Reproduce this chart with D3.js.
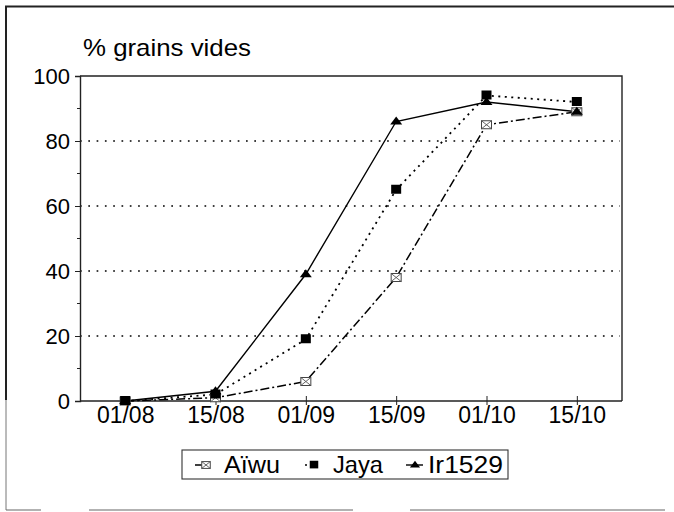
<!DOCTYPE html>
<html>
<head>
<meta charset="utf-8">
<script src="https://cdn.jsdelivr.net/npm/d3@7/dist/d3.min.js"></script>
<style>
  html, body { margin: 0; padding: 0; background: #fff; }
  svg { display: block; font-family: "Liberation Sans", Arial, sans-serif; }
</style>
</head>
<body>
<svg id="chart" width="674" height="512"></svg>
<script>
// Sampling dates (day/month)
const dates = ["01/08", "15/08", "01/09", "15/09", "01/10", "15/10"];
// Percentage of empty grains per variety
const aiwu   = [0, 1, 6, 38, 85, 89];
const jaya   = [0, 2, 19, 65, 94, 92];
const ir1529 = [0, 3, 39, 86, 92, 89];
const yTicks = [0, 20, 40, 60, 80, 100];
const seriesNames = ["Aïwu", "Jaya", "Ir1529"];

const svg = d3.select("#chart");

// Outer frame
const frame = svg.append("g").attr("fill", "none");
frame.append("line").attr("x1", 5).attr("x2", 674).attr("y1", 6.5).attr("y2", 6.5)
  .attr("stroke", "#222").attr("stroke-width", 2);
frame.append("line").attr("x1", 6).attr("x2", 6).attr("y1", 6).attr("y2", 400)
  .attr("stroke", "#222").attr("stroke-width", 2);
frame.append("line").attr("x1", 6).attr("x2", 6).attr("y1", 400).attr("y2", 510)
  .attr("stroke", "#777").attr("stroke-width", 1);
[[6, 41], [89, 353], [410, 665]].forEach(([a, b]) => {
  frame.append("line").attr("x1", a).attr("x2", b).attr("y1", 510).attr("y2", 510)
    .attr("stroke", "#666").attr("stroke-width", 1.2);
});

const plotLeft = 80, plotRight = 622, plotTop = 76, plotBottom = 401;

const x = d3.scalePoint().domain(dates).range([plotLeft, plotRight]).padding(0.5);
const y = d3.scaleLinear().domain([0, 100]).range([plotBottom, plotTop]);

// Dotted gridlines
svg.append("g").selectAll("line")
  .data(yTicks.filter(t => t > 0 && t < 100))
  .join("line")
  .attr("x1", plotLeft).attr("x2", plotRight - 2)
  .attr("y1", d => y(d)).attr("y2", d => y(d))
  .attr("stroke", "#000").attr("stroke-width", 1.5)
  .attr("stroke-dasharray", "1.7,6.6");

// Plot border (top and right)
svg.append("path")
  .attr("d", `M${plotLeft},${y(100)}H${plotRight}V${plotBottom}`)
  .attr("fill", "none").attr("stroke", "#222").attr("stroke-width", 1.4);

// Y axis
const yAxis = d3.axisLeft(y).tickValues(yTicks).tickSize(5).tickPadding(5);
const gy = svg.append("g").attr("transform", `translate(${plotLeft},0)`).call(yAxis);
gy.select(".domain").attr("stroke", "#222").attr("stroke-width", 1.4);
gy.selectAll(".tick line").attr("stroke", "#222");
gy.selectAll(".tick text").attr("font-size", 22).attr("fill", "#000")
  .attr("font-family", "Liberation Sans, Arial, sans-serif");
// minor ticks
const yMinor = d3.range(10, 100, 20);
gy.selectAll(".minor").data(yMinor).join("line").attr("class", "minor")
  .attr("x1", -3).attr("x2", 0).attr("y1", d => y(d)).attr("y2", d => y(d))
  .attr("stroke", "#222");

// X axis
const xAxis = d3.axisBottom(x).tickSize(4).tickPadding(2);
const gx = svg.append("g").attr("transform", `translate(0,${plotBottom})`).call(xAxis);
gx.select(".domain").attr("d", `M${plotLeft},0H${plotRight}`).attr("stroke", "#222").attr("stroke-width", 1.4);
gx.selectAll(".tick line").attr("y1", -5).attr("y2", 4).attr("stroke", "#222");
gx.selectAll(".tick text").attr("font-size", 23).attr("fill", "#000")
  .attr("font-family", "Liberation Sans, Arial, sans-serif");

// Title
svg.append("text").attr("x", 83).attr("y", 56)
  .attr("font-size", 24).attr("fill", "#000")
  .attr("textLength", 168).attr("lengthAdjust", "spacingAndGlyphs")
  .text("% grains vides");

// Series styles
const series = [
  { name: seriesNames[0], values: aiwu,   dash: "9,3,2,3", width: 1.5, marker: "xbox" },
  { name: seriesNames[1], values: jaya,   dash: "2,4.5",   width: 1.8, marker: "square" },
  { name: seriesNames[2], values: ir1529, dash: null,      width: 1.4, marker: "triangle" }
];

const line = d3.line().x((d, i) => x(dates[i])).y(d => y(d));

function drawMarker(g, type, cx, cy, sz = 1) {
  if (type === "square") {
    g.append("rect").attr("x", cx - 5 * sz).attr("y", cy - 5 * sz)
      .attr("width", 10 * sz).attr("height", 9 * sz).attr("fill", "#000");
  } else if (type === "triangle") {
    g.append("path")
      .attr("d", `M${cx},${cy - 5 * sz}L${cx + 6 * sz},${cy + 3 * sz}L${cx - 6 * sz},${cy + 3 * sz}Z`)
      .attr("fill", "#000");
  } else {
    const w = 5 * sz, h = 4 * sz;
    g.append("rect").attr("x", cx - w).attr("y", cy - h).attr("width", 2 * w).attr("height", 2 * h)
      .attr("fill", "#fff").attr("stroke", "#444").attr("stroke-width", 1);
    g.append("path").attr("d", `M${cx - w},${cy - h}L${cx + w},${cy + h}M${cx + w},${cy - h}L${cx - w},${cy + h}`)
      .attr("stroke", "#555").attr("stroke-width", 0.9).attr("fill", "none");
  }
}

series.forEach(s => {
  svg.append("path").datum(s.values).attr("d", line)
    .attr("fill", "none").attr("stroke", "#000").attr("stroke-width", s.width)
    .attr("stroke-dasharray", s.dash);
});
series.forEach(s => {
  const g = svg.append("g");
  s.values.forEach((v, i) => drawMarker(g, s.marker, x(dates[i]), y(v)));
});

// Legend
const lg = svg.append("g");
lg.append("rect").attr("x", 182).attr("y", 450).attr("width", 326).attr("height", 29)
  .attr("fill", "#fff").attr("stroke", "#333").attr("stroke-width", 1.1);
const legendItems = [
  { s: series[0], lx: 195, lx2: 212, mx: 206, tx: 224, tl: 56 },
  { s: series[1], lx: 305, lx2: 318, mx: 314, tx: 333, tl: 50 },
  { s: series[2], lx: 406, lx2: 423, mx: 415, tx: 428, tl: 75 }
];
legendItems.forEach(it => {
  lg.append("line").attr("x1", it.lx).attr("x2", it.lx2).attr("y1", 465).attr("y2", 465)
    .attr("stroke", "#000").attr("stroke-width", 1.4)
    .attr("stroke-dasharray", it.s.dash);
  drawMarker(lg, it.s.marker, it.mx, 465, 0.85);
  lg.append("text").attr("x", it.tx).attr("y", 473).attr("font-size", 24)
    .attr("textLength", it.tl).attr("lengthAdjust", "spacingAndGlyphs")
    .attr("fill", "#000").text(it.s.name);
});
</script>
</body>
</html>
